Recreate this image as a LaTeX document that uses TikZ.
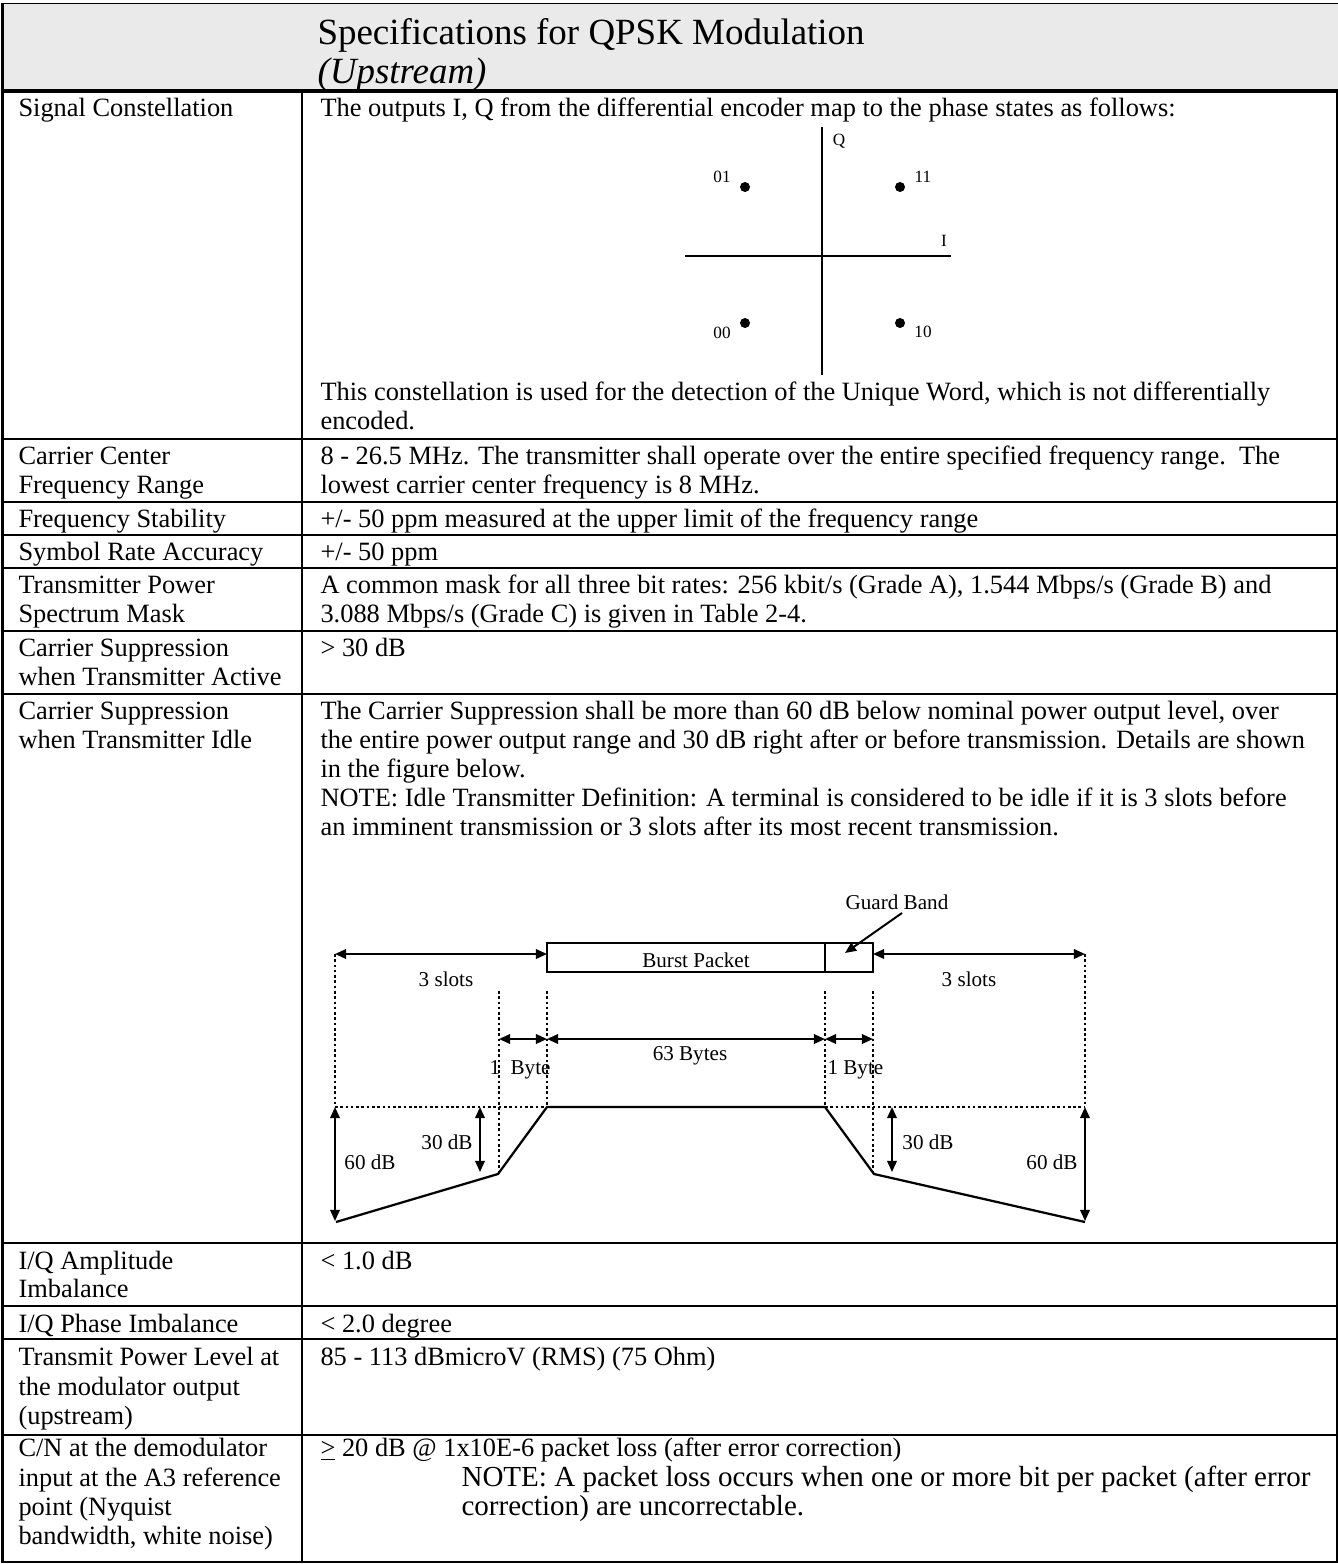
\documentclass[tikz,border=0pt]{standalone}
\usepackage{fontspec}
\setmainfont{Liberation Serif}
\usetikzlibrary{arrows.meta}
\definecolor{headgray}{RGB}{234,234,234}
\newcommand{\bodyfont}{\fontsize{10}{11}\selectfont}
\newcommand{\headfont}{\fontsize{14}{16}\selectfont}
\newcommand{\notefont}{\fontsize{11}{12}\selectfont}
\newcommand{\figfont}{\fontsize{8}{9}\selectfont}
\newcommand{\qfont}{\fontsize{6.5}{7.5}\selectfont}
\tikzset{
  cell/.style={anchor=base west, inner sep=0pt, font=\bodyfont},
  lbl/.style={inner sep=0pt, font=\figfont},
  qlbl/.style={inner sep=0pt, font=\qfont},
  grid/.style={line width=0.75pt},
  dots/.style={line width=0.75pt, dash pattern=on 1pt off 1pt},
  dim/.style={line width=0.75pt, {Triangle[length=4.2pt,width=3.6pt]}-{Triangle[length=4.2pt,width=3.6pt]}},
  pointer/.style={line width=0.75pt, -{Triangle[length=4.2pt,width=3.6pt]}},
}
\begin{document}
\begin{tikzpicture}[x=0.3788pt, y=-0.3788pt]
\useasboundingbox (0,0) rectangle (1338,1564);

%шапка
\fill[headgray] (3,4) rectangle (1338,91);
\draw[line width=0.4pt] (1,3.5) -- (1338,3.5);
\node[cell, font=\headfont] (title) at (317,44) {Specifications for QPSK Modulation};
\node[cell, font=\headfont\itshape] (subtitle) at (317,83) {(Upstream)};

%рамка
\draw[line width=1.15pt] (2.5,3) -- (2.5,1563);
\draw[line width=1.15pt] (1,91) -- (1338,91);
\draw[grid] (302,91) -- (302,1562);
\draw[grid] (1337,91) -- (1337,1563);
\draw[grid] (2,1562) -- (1338,1562);
\draw[grid] (2,439) -- (1337,439);
\draw[grid] (2,502) -- (1337,502);
\draw[grid] (2,535) -- (1337,535);
\draw[grid] (2,568) -- (1337,568);
\draw[grid] (2,631) -- (1337,631);
\draw[grid] (2,694) -- (1337,694);
\draw[grid] (2,1243) -- (1337,1243);
\draw[grid] (2,1306) -- (1337,1306);
\draw[grid] (2,1339) -- (1337,1339);
\draw[grid] (2,1435) -- (1337,1435);

%левая колонка
\node[cell] (p1) at (18,116) {Signal Constellation};
\node[cell] (p2a) at (18,464) {Carrier Center};
\node[cell] (p2b) at (18,493) {Frequency Range};
\node[cell] (p3) at (18,527) {Frequency Stability};
\node[cell] (p4) at (18,560) {Symbol Rate Accuracy};
\node[cell] (p5a) at (18,593) {Transmitter Power};
\node[cell] (p5b) at (18,622) {Spectrum Mask};
\node[cell] (p6a) at (18,656) {Carrier Suppression};
\node[cell] (p6b) at (18,685) {when Transmitter Active};
\node[cell] (p7a) at (18,719) {Carrier Suppression};
\node[cell] (p7b) at (18,748) {when Transmitter Idle};
\node[cell] (p8a) at (18,1269) {I/Q Amplitude};
\node[cell] (p8b) at (18,1297) {Imbalance};
\node[cell] (p9) at (18,1332) {I/Q Phase Imbalance};
\node[cell] (p10a) at (18,1365) {Transmit Power Level at};
\node[cell] (p10b) at (18,1395) {the modulator output};
\node[cell] (p10c) at (18,1424) {(upstream)};
\node[cell] (p11a) at (18,1456) {C/N at the demodulator};
\node[cell] (p11b) at (18,1486) {input at the A3 reference};
\node[cell] (p11c) at (18,1515) {point (Nyquist};
\node[cell] (p11d) at (18,1544) {bandwidth, white noise)};

%правая колонка
\node[cell] (v1a) at (320,116) {The outputs I, Q from the differential encoder map to the phase states as follows:};
\node[cell] (v1b) at (320,400) {This constellation is used for the detection of the Unique Word, which is not differentially};
\node[cell] (v1c) at (320,429) {encoded.};
\node[cell] (v2a) at (320,464) {8 - 26.5 MHz. The transmitter shall operate over the entire specified frequency range.\ \ The};
\node[cell] (v2b) at (320,493) {lowest carrier center frequency is 8 MHz.};
\node[cell] (v3) at (320,527) {+/- 50 ppm measured at the upper limit of the frequency range};
\node[cell] (v4) at (320,560) {+/- 50 ppm};
\node[cell] (v5a) at (320,593) {A common mask for all three bit rates: 256 kbit/s (Grade A), 1.544 Mbps/s (Grade B) and};
\node[cell] (v5b) at (320,622) {3.088 Mbps/s (Grade C) is given in Table 2-4.};
\node[cell] (v6) at (320,656) {> 30 dB};
\node[cell] (v7a) at (320,719) {The Carrier Suppression shall be more than 60 dB below nominal power output level, over};
\node[cell] (v7b) at (320,748) {the entire power output range and 30 dB right after or before transmission. Details are shown};
\node[cell] (v7c) at (320,777) {in the figure below.};
\node[cell] (v7d) at (320,806) {NOTE: Idle Transmitter Definition: A terminal is considered to be idle if it is 3 slots before};
\node[cell] (v7e) at (320,835) {an imminent transmission or 3 slots after its most recent transmission.};
\node[cell] (v8) at (320,1269) {< 1.0 dB};
\node[cell] (v9) at (320,1332) {< 2.0 degree};
\node[cell] (v10) at (320,1365) {85 - 113 dBmicroV (RMS) (75 Ohm)};
\node[cell] (v11a) at (320,1456) {\underline{>} 20 dB @ 1x10E-6 packet loss (after error correction)};
\node[cell, font=\notefont] (v11b) at (461,1486) {NOTE: A packet loss occurs when one or more bit per packet (after error};
\node[cell, font=\notefont] (v11c) at (461,1515) {correction) are uncorrectable.};

%созвездие
\draw[grid] (822,127) -- (822,375);
\draw[grid] (685,256) -- (951,256);
\fill (745,187) circle[radius=1.9pt];
\fill (900,187) circle[radius=1.9pt];
\fill (745,323) circle[radius=1.9pt];
\fill (900,323) circle[radius=1.9pt];
\node[qlbl] (s01) at (722,177) {01};
\node[qlbl] (s11) at (923,177) {11};
\node[qlbl] (s00) at (722,333) {00};
\node[qlbl] (s10) at (923,332) {10};
\node[qlbl] (axq) at (839,141) {Q};
\node[qlbl] (axi) at (944,241) {I};

%пакет
\draw[line width=0.8pt] (547,943) rectangle (873,972);
\draw[line width=0.8pt] (825,943) -- (825,972);
\node[lbl] (burst) at (696,960) {Burst Packet};
\node[lbl] (gb) at (897,902) {Guard Band};
\coordinate (gbfrom) at (902,913);
\coordinate (gbto) at (845,953);
\draw[pointer] (gbfrom) -- (gbto);

%слоты
\draw[dim] (335,954) -- (547,954);
\draw[dim] (873,954) -- (1085,954);
\node[lbl] (sl1) at (446,979) {3 slots};
\node[lbl] (sl2) at (969,979) {3 slots};

%пунктир
\draw[dots] (335,954) -- (335,1107);
\draw[dots] (1085,954) -- (1085,1107);
\draw[dots] (499,991) -- (499,1174);
\draw[dots] (547,991) -- (547,1107);
\draw[dots] (825,991) -- (825,1107);
\draw[dots] (873,991) -- (873,1174);
\draw[dots] (335,1107) -- (547,1107);
\draw[dots] (825,1107) -- (1085,1107);

%байты
\draw[dim] (499,1039) -- (547,1039);
\draw[dim] (547,1039) -- (825,1039);
\draw[dim] (825,1039) -- (873,1039);
\node[lbl, anchor=base west] (b1) at (489,1074) {1~ Byte};
\node[lbl] (b63) at (690,1056) {63 Bytes};
\node[lbl, anchor=base west] (b2) at (827,1074) {1 Byte};

%маска
\draw[line width=0.85pt] (336,1222) -- (498,1174) -- (547,1107) -- (825,1107) -- (874,1174) -- (1085,1222);
\draw[dim] (480,1107) -- (480,1172);
\draw[dim] (892,1107) -- (892,1172);
\draw[dim] (335,1107) -- (335,1221);
\draw[dim] (1085,1107) -- (1085,1221);
\node[lbl] (d30a) at (447,1142) {30 dB};
\node[lbl] (d60a) at (370,1162) {60 dB};
\node[lbl] (d30b) at (928,1142) {30 dB};
\node[lbl] (d60b) at (1052,1162) {60 dB};

\end{tikzpicture}
\end{document}
